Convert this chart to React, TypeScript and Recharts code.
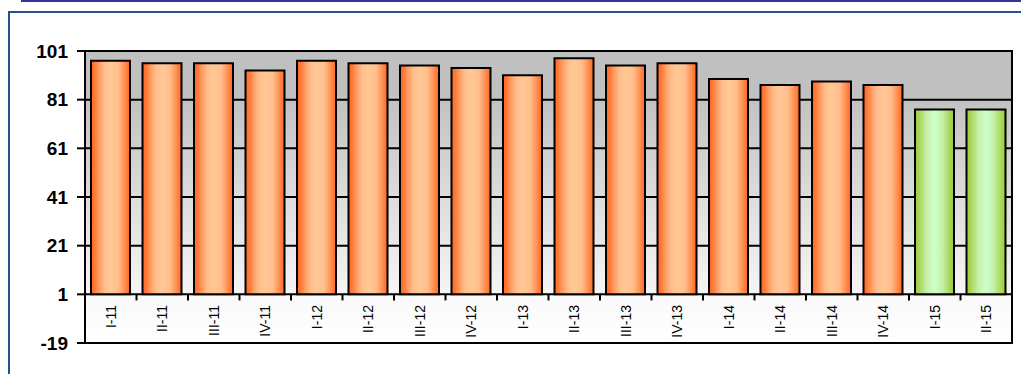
import {
  BarChart,
  Bar,
  Cell,
  XAxis,
  YAxis,
  CartesianGrid,
  ReferenceArea,
  ReferenceLine,
} from 'recharts';

const categories = [
  'I-11', 'II-11', 'III-11', 'IV-11',
  'I-12', 'II-12', 'III-12', 'IV-12',
  'I-13', 'II-13', 'III-13', 'IV-13',
  'I-14', 'II-14', 'III-14', 'IV-14',
  'I-15', 'II-15',
];
const values = [97, 96, 96, 93, 97, 96, 95, 94, 91, 98, 95, 96, 89.5, 87, 88.5, 87, 77, 77];
const kinds = [
  'actual', 'actual', 'actual', 'actual',
  'actual', 'actual', 'actual', 'actual',
  'actual', 'actual', 'actual', 'actual',
  'actual', 'actual', 'actual', 'actual',
  'forecast', 'forecast',
];
const yTicks = [-19, 1, 21, 41, 61, 81, 101];
const baseValue = 1;
const yMin = -19;
const yMax = 101;

const FONT = '"Liberation Sans", Arial, sans-serif';
const FRAME = '#25508a';

const data = categories.map((name, i) => ({
  name,
  range: [baseValue, values[i]],
  kind: kinds[i],
}));

// where the base line sits inside the plot, as a gradient stop
const baseStop = `${((yMax - baseValue) / (yMax - yMin)) * 100}%`;

function CategoryTick(props: any) {
  const { x, y, payload } = props;
  const ty = y - 38;
  return (
    <text
      x={x}
      y={ty}
      transform={`rotate(-90, ${x}, ${ty})`}
      textAnchor="end"
      dy="0.35em"
      fontSize={14}
      fontFamily={FONT}
      fill="#000"
    >
      {payload.value}
    </text>
  );
}

export default function App() {
  // fixed to the window so nothing spills over and adds scrollbars
  return (
    <div
      style={{
        position: 'fixed',
        left: 0,
        top: 0,
        width: 1021,
        height: 374,
        overflow: 'hidden',
        background: '#fff',
      }}
    >
      {/* header rule */}
      <div style={{ position: 'absolute', left: 21, top: 0, width: 1000, height: 2, background: '#333399' }} />
      {/* frame, left and top sides only show */}
      <div style={{ position: 'absolute', left: 8, top: 11, width: 2, height: 363, background: FRAME }} />
      <div style={{ position: 'absolute', left: 8, top: 11, width: 1013, height: 2, background: FRAME }} />

      <div style={{ position: 'absolute', left: 0, top: 0 }}>
        <BarChart
          width={1021}
          height={374}
          data={data}
          margin={{ top: 51, right: 9, bottom: 0, left: 0 }}
        >
          <defs>
            <linearGradient id="plotBg" x1="0" y1="0" x2="0" y2="1">
              <stop offset="0%" stopColor="#c0c0c0" />
              <stop offset="14%" stopColor="#c0c0c0" />
              <stop offset={baseStop} stopColor="#f6f6f6" />
              <stop offset={baseStop} stopColor="#f9f9f9" />
              <stop offset="100%" stopColor="#ffffff" />
            </linearGradient>
            <linearGradient id="orangeBar" x1="0" y1="0" x2="1" y2="0">
              <stop offset="0%" stopColor="#ff6620" />
              <stop offset="10%" stopColor="#ff7a38" />
              <stop offset="22%" stopColor="#ffa068" />
              <stop offset="35%" stopColor="#ffbf8c" />
              <stop offset="50%" stopColor="#ffc896" />
              <stop offset="70%" stopColor="#ffbf8c" />
              <stop offset="85%" stopColor="#ff9458" />
              <stop offset="100%" stopColor="#ff6620" />
            </linearGradient>
            <linearGradient id="greenBar" x1="0" y1="0" x2="1" y2="0">
              <stop offset="0%" stopColor="#99cc33" />
              <stop offset="12%" stopColor="#aad860" />
              <stop offset="30%" stopColor="#c4f0a8" />
              <stop offset="50%" stopColor="#ccffcc" />
              <stop offset="70%" stopColor="#c4f0a8" />
              <stop offset="88%" stopColor="#aad860" />
              <stop offset="100%" stopColor="#99cc33" />
            </linearGradient>
          </defs>

          <CartesianGrid
            vertical={false}
            fill="url(#plotBg)"
            fillOpacity={1}
            stroke="#000"
            strokeWidth={2}
            strokeOpacity={1}
          />

          <XAxis
            dataKey="name"
            height={31}
            axisLine={false}
            tickLine={false}
            tickSize={0}
            tickMargin={0}
            interval={0}
            tick={<CategoryTick />}
          />
          <YAxis
            type="number"
            domain={[yMin, yMax]}
            ticks={yTicks}
            interval={0}
            width={85}
            tickSize={8}
            tickMargin={9}
            axisLine={{ stroke: '#000', strokeWidth: 2 }}
            tickLine={{ stroke: '#000', strokeWidth: 2 }}
            tick={{ fill: '#000', fontSize: 19, fontWeight: 'bold', fontFamily: FONT }}
          />

          {categories.slice(0, -1).map((c) => (
            <ReferenceLine
              key={c}
              segment={[
                { x: c, y: baseValue },
                { x: c, y: baseValue - 2.5 },
              ]}
              position="end"
              stroke="#000"
              strokeWidth={2}
              ifOverflow="visible"
            />
          ))}

          <Bar
            dataKey="range"
            barSize={39}
            stroke="#000"
            strokeWidth={2}
            isAnimationActive={false}
          >
            {data.map((d) => (
              <Cell
                key={d.name}
                fill={d.kind === 'forecast' ? 'url(#greenBar)' : 'url(#orangeBar)'}
              />
            ))}
          </Bar>

          {/* plot frame */}
          <ReferenceArea
            y1={yMin}
            y2={yMax}
            fill="none"
            stroke="#000"
            strokeWidth={2}
            ifOverflow="visible"
          />
        </BarChart>
      </div>
    </div>
  );
}
